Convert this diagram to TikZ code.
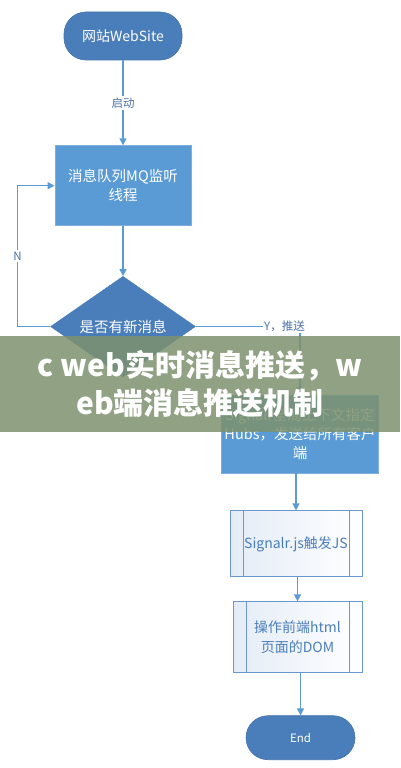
\documentclass[tikz,border=0pt]{standalone}
\usepackage{fontspec}
\setmainfont{Noto Sans CJK SC}
\usepackage{tikz}
\usetikzlibrary{shapes.geometric, positioning, arrows.meta}
\definecolor{boxblue}{HTML}{5B9BD5}
\definecolor{termblue}{HTML}{4A7EBB}
\definecolor{labblue}{HTML}{4A72A8}
\definecolor{procline}{HTML}{6A98CE}
\definecolor{procfill}{HTML}{E4ECF7}
\definecolor{bandgreen}{RGB}{125,145,110}
\tikzset{
x=1pt, y=-1pt, % one unit is one pixel of the sketch, y goes down
>={Triangle[length=7pt, width=7pt]}, % filled flow chart arrow heads
flow/.style={->, draw=boxblue, line width=1.4pt}, % every connector
term/.style={rectangle, rounded corners=22pt, fill=termblue, draw=termblue!90!black, line width=0.6pt, text=white, minimum width=118pt, minimum height=48pt, font=\fontsize{14}{16}\selectfont}, % start and end
task/.style={rectangle, fill=boxblue, draw=boxblue!80!white, line width=0.8pt, text=white, align=center, font=\fontsize{14.5}{19}\selectfont}, % plain steps
choice/.style={diamond, fill=termblue, draw=termblue, text=white, minimum width=145pt, minimum height=86pt, inner sep=0pt, font=\fontsize{14.5}{16}\selectfont}, % the question
proc/.style={rectangle, draw=procline, line width=1pt, left color=procfill, right color=white, text=termblue, align=center, minimum width=132pt, minimum height=66pt, font=\fontsize{14}{20}\selectfont,
  path picture={\draw[procline, line width=1pt]
    ([xshift=13pt]path picture bounding box.north west) -- ([xshift=13pt]path picture bounding box.south west)
    ([xshift=-13pt]path picture bounding box.north east) -- ([xshift=-13pt]path picture bounding box.south east);}}, % predefined process
lab/.style={fill=white, text=labblue, inner sep=1.5pt, font=\fontsize{11.5}{12}\selectfont}, % connector labels
banner/.style={fill=bandgreen, fill opacity=0.85, text opacity=1, text=white, minimum width=400pt, minimum height=96pt, inner sep=0pt, align=center, font=\bfseries\fontsize{30}{38}\selectfont}, % title band on top
}

\begin{document}
\begin{tikzpicture}
  \useasboundingbox (0,0) rectangle (400,768);

  % Nodes
  \node[term] (ws) at (123,36) {网站WebSite};
  \node[task, below=85pt of ws, minimum width=136pt, minimum height=80pt] (mq) {消息队列MQ监听\\线程};
  \node[choice, below=50pt of mq] (dec) {是否有新消息};
  \node[task, minimum width=155pt, minimum height=78pt] (hub) at (300,434) {Signalr全局上下文指定\\Hubs，发送给所有客户\\端};
  \node[proc, below=37pt of hub, xshift=-4pt] (js) {Signalr.js触发JS};
  \node[proc, below=24pt of js, xshift=1.5pt, minimum width=129pt, minimum height=71pt] (dom) {操作前端html\\页面的DOM};
  \node[term, below=42pt of dom, xshift=3pt, minimum width=109pt, minimum height=44pt, font=\fontsize{11.5}{12}\selectfont] (end) {End};

  % Flow
  \draw[flow] (ws) -- node[lab] {启动} (mq);
  \draw[flow] (mq) -- (dec);
  \draw[flow] (dec.west) -| node[lab, pos=0.75] {N} ([xshift=-37pt]mq.west) -- (mq.west);
  \draw[flow] (dec.east) -| node[lab, pos=0.5, anchor=east, xshift=7pt] {Y，推送} (hub.north);
  \draw[flow] (js.north |- hub.south) -- (js.north);
  \draw[flow] (dom.north |- js.south) -- (dom.north);
  \draw[flow] (end.north |- dom.south) -- (end.north);

  % Title band
  \node[banner] (ttl) at (200,384) {c web实时消息推送，w\\eb端消息推送机制};
\end{tikzpicture}
\end{document}
